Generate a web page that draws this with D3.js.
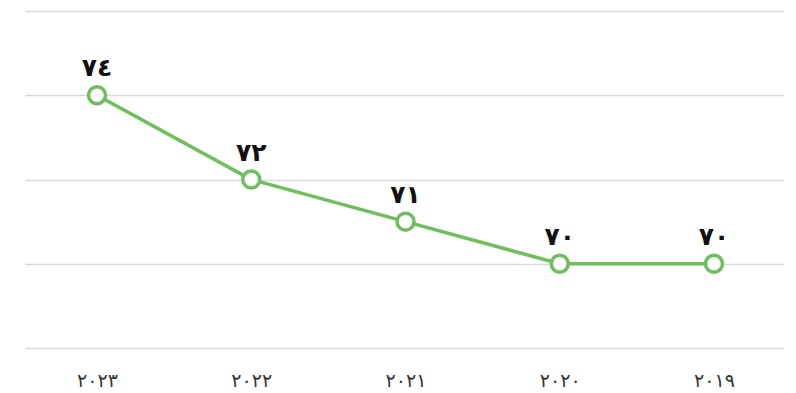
<!DOCTYPE html>
<html>
<head>
<meta charset="utf-8">
<script src="https://cdn.jsdelivr.net/npm/d3@7"></script>
<style>
  body { margin: 0; background: #fff; }
  svg { display: block; }
</style>
</head>
<body>
<svg id="chart" width="796" height="393"></svg>
<script>
// Years (left to right) and the values for each year
const years = ["2023", "2022", "2021", "2020", "2019"];
const values = [74, 72, 71, 70, 70];
const gridValues = [68, 70, 72, 74, 76];

// Western to Arabic-Indic digits
const arabicDigits = "٠١٢٣٤٥٦٧٨٩";
const toArabic = s => String(s).replace(/[0-9]/g, d => arabicDigits[+d]);

const width = 796, height = 393;
const margin = { left: 25, right: 12, top: 11, bottom: 45 };

const svg = d3.select("#chart");

const x = d3.scalePoint()
  .domain(years)
  .range([97, 714]);

const y = d3.scaleLinear()
  .domain([68, 76])
  .range([348, 11]);

// Horizontal gridlines
svg.append("g")
  .selectAll("line")
  .data(gridValues)
  .join("line")
  .attr("x1", margin.left)
  .attr("x2", width - margin.right)
  .attr("y1", d => Math.round(y(d)) + 0.5)
  .attr("y2", d => Math.round(y(d)) + 0.5)
  .attr("stroke", "#d9d9d9")
  .attr("stroke-width", 1.5);

// X axis labels
const xAxis = d3.axisBottom(x).tickSize(0).tickPadding(0).tickFormat(toArabic);
const gx = svg.append("g")
  .attr("transform", `translate(0, 383)`)
  .call(xAxis);
gx.select(".domain").remove();
gx.selectAll("text")
  .attr("font-family", "DejaVu Sans, sans-serif")
  .attr("font-size", 19)
  .attr("letter-spacing", "-2px")
  .attr("fill", "#333")
  .attr("dy", "0.2em");

const data = years.map((yr, i) => ({ year: yr, value: values[i] }));

// Line
svg.append("path")
  .datum(data)
  .attr("fill", "none")
  .attr("stroke", "#6dbf5b")
  .attr("stroke-width", 3.5)
  .attr("d", d3.line().x(d => x(d.year)).y(d => y(d.value)));

// Markers
svg.append("g")
  .selectAll("circle")
  .data(data)
  .join("circle")
  .attr("cx", d => x(d.year))
  .attr("cy", d => y(d.value))
  .attr("r", 8.5)
  .attr("fill", "#fff")
  .attr("stroke", "#6dbf5b")
  .attr("stroke-width", 3.5);

// Value labels
svg.append("g")
  .selectAll("text")
  .data(data)
  .join("text")
  .attr("x", d => x(d.year))
  .attr("y", d => y(d.value) - 19)
  .attr("text-anchor", "middle")
  .attr("font-family", "DejaVu Sans, sans-serif")
  .attr("font-weight", "bold")
  .attr("font-size", 25)
  .attr("fill", "#111")
  .text(d => toArabic(d.value));
</script>
</body>
</html>
